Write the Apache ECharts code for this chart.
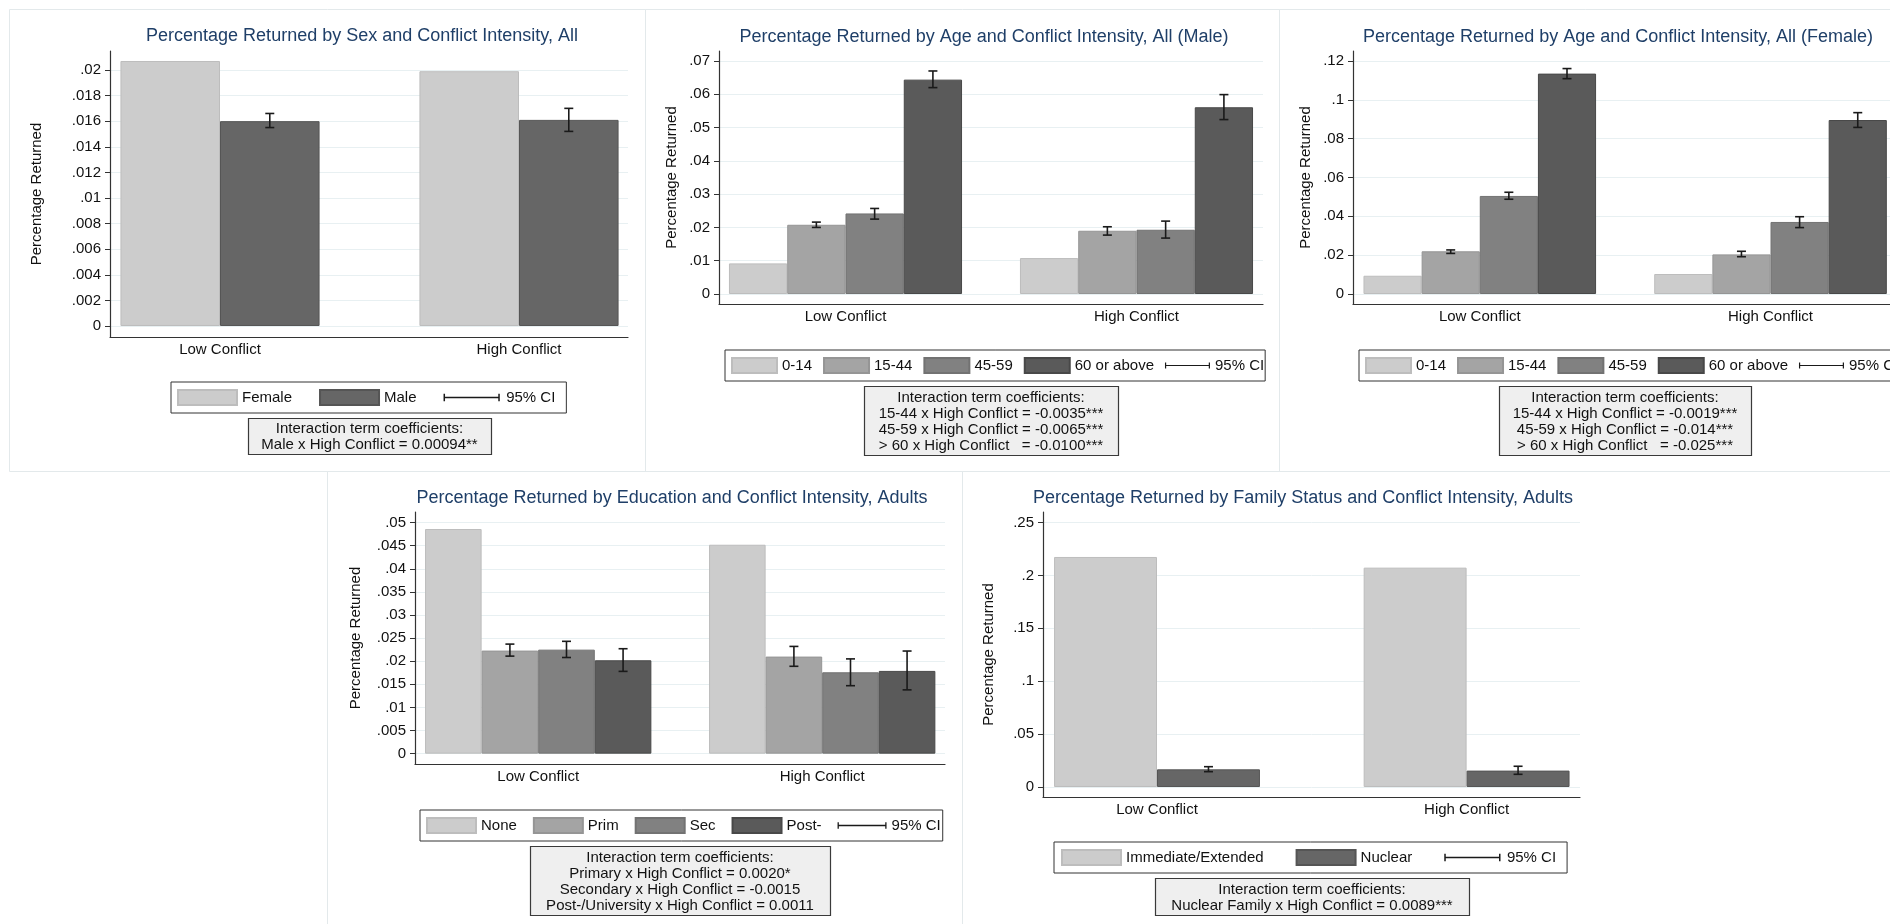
<!DOCTYPE html>
<html>
<head>
<meta charset="utf-8">
<title>Percentage Returned by Conflict Intensity</title>
<script src="https://cdn.jsdelivr.net/npm/echarts@6/dist/echarts.min.js"></script>
<style>
  html, body { margin: 0; padding: 0; background: #fff; }
  #main { width: 1890px; height: 924px; }
</style>
</head>
<body>
<div id="main"></div>
<script>
// ---- data ----
const conflict = ['Low Conflict', 'High Conflict'];

// sex
const sexNames = ['Female', 'Male'];
const sexFemale = [0.0207, 0.0199];
const sexMale = [0.0160, 0.0161];
const sexMaleCI = [[0.0155, 0.0166], [0.0152, 0.0170]];
const sexTicks = ['0', '.002', '.004', '.006', '.008', '.01', '.012', '.014', '.016', '.018', '.02'];
const sexCoef = ['Interaction term coefficients:', 'Male x High Conflict = 0.00094**'];

// age, male
const ageNames = ['0-14', '15-44', '45-59', '60 or above'];
const maleAge014 = [0.0092, 0.0108];
const maleAge1544 = [0.0208, 0.0190];
const maleAge4559 = [0.0242, 0.0193];
const maleAge60 = [0.0644, 0.0561];
const maleAge1544CI = [[0.0200, 0.0216], [0.0177, 0.0202]];
const maleAge4559CI = [[0.0225, 0.0257], [0.0168, 0.0219]];
const maleAge60CI = [[0.0620, 0.0670], [0.0524, 0.0599]];
const maleAgeTicks = ['0', '.01', '.02', '.03', '.04', '.05', '.06', '.07'];
const maleAgeCoef = ['Interaction term coefficients:', '15-44 x High Conflict = -0.0035***',
  '45-59 x High Conflict = -0.0065***', '> 60 x High Conflict   = -0.0100***'];

// age, female
const femAge014 = [0.0094, 0.0103];
const femAge1544 = [0.0220, 0.0204];
const femAge4559 = [0.0505, 0.0371];
const femAge60 = [0.1135, 0.0896];
const femAge1544CI = [[0.0209, 0.0227], [0.0192, 0.0220]];
const femAge4559CI = [[0.0488, 0.0524], [0.0342, 0.0398]];
const femAge60CI = [[0.1109, 0.1161], [0.0858, 0.0934]];
const femAgeTicks = ['0', '.02', '.04', '.06', '.08', '.1', '.12'];
const femAgeCoef = ['Interaction term coefficients:', '15-44 x High Conflict = -0.0019***',
  '45-59 x High Conflict = -0.014***', '> 60 x High Conflict   = -0.025***'];

// education
const eduNames = ['None', 'Prim', 'Sec', 'Post-'];
const eduNone = [0.0486, 0.0452];
const eduPrim = [0.0223, 0.0210];
const eduSec = [0.0225, 0.0176];
const eduPost = [0.0202, 0.0179];
const eduPrimCI = [[0.0211, 0.0237], [0.0189, 0.0232]];
const eduSecCI = [[0.0208, 0.0243], [0.0147, 0.0205]];
const eduPostCI = [[0.0178, 0.0227], [0.0138, 0.0222]];
const eduTicks = ['0', '.005', '.01', '.015', '.02', '.025', '.03', '.035', '.04', '.045', '.05'];
const eduCoef = ['Interaction term coefficients:', 'Primary x High Conflict = 0.0020*',
  'Secondary x High Conflict = -0.0015', 'Post-/University x High Conflict = 0.0011'];

// family status
const famNames = ['Immediate/Extended', 'Nuclear'];
const famImm = [0.2175, 0.2074];
const famNuc = [0.0167, 0.0155];
const famNucCI = [[0.0145, 0.0192], [0.0120, 0.0196]];
const famTicks = ['0', '.05', '.1', '.15', '.2', '.25'];
const famCoef = ['Interaction term coefficients:', 'Nuclear Family x High Conflict = 0.0089***'];

// ---- style ----
const FONT = "'Liberation Sans', Arial, sans-serif";
const TITLE_C = '#1f3f68';
const AXIS_C = '#333333';
const GRID_C = '#e8f0f2';
const TXT_C = '#111';
const G1 = ['#cccccc', '#bdbdbd'];
const G2 = ['#a4a4a4', '#959595'];
const G3 = ['#818181', '#727272'];
const G4 = ['#5a5a5a', '#484848'];
const GM = ['#666666', '#555555'];
const CI_ICON = 'path://M0,0L0.1,0L0.1,0.1Z M0,16L0.1,16L0.1,15.9Z M60,0L59.9,0L59.9,0.1Z' +
  ' M0,4h1.6v8h-1.6Z M0,7.2h60v1.6h-60Z M58.4,4h1.6v8h-1.6Z';

const panels = [
  {
    title: 'Percentage Returned by Sex and Conflict Intensity, All', titleX: 362, titleY: 36,
    names: sexNames, values: [sexFemale, sexMale], ci: [null, sexMaleCI], colors: [G1, GM],
    ticks: sexTicks, min: -0.00086, max: 0.02148,
    frame: [110, 51, 518, 286], dataLeft: 70.5, dataWidth: 598, gap: 0.334, nameGap: 66,
    legend: { left: 171, top: 382, itemWidth: 59, itemGap: 27, padding: [7, 11, 7, 6] },
    coef: [248, 418, 243, 36], coefLines: sexCoef, box: [9, 9, 636, 462], open: false
  },
  {
    title: 'Percentage Returned by Age and Conflict Intensity, All (Male)', titleX: 984, titleY: 37,
    names: ageNames, values: [maleAge014, maleAge1544, maleAge4559, maleAge60],
    ci: [null, maleAge1544CI, maleAge4559CI, maleAge60CI], colors: [G1, G2, G3, G4],
    ticks: maleAgeTicks, min: -0.0030, max: 0.0730,
    frame: [719, 51, 544, 253], dataLeft: 700, dataWidth: 582, gap: 0.199, nameGap: 40,
    legend: { left: 725, top: 350, itemWidth: 45, itemGap: 11, padding: [7, 1, 7, 6] },
    coef: [864, 386, 254, 69], coefLines: maleAgeCoef, box: [645, 9, 634, 462], open: false
  },
  {
    title: 'Percentage Returned by Age and Conflict Intensity, All (Female)', titleX: 1618, titleY: 37,
    names: ageNames, values: [femAge014, femAge1544, femAge4559, femAge60],
    ci: [null, femAge1544CI, femAge4559CI, femAge60CI], colors: [G1, G2, G3, G4],
    ticks: femAgeTicks, min: -0.00515, max: 0.12515,
    frame: [1353, 51, 544, 253], dataLeft: 1334.4, dataWidth: 581.5, gap: 0.2, nameGap: 40,
    legend: { left: 1359, top: 350, itemWidth: 45, itemGap: 11, padding: [7, 1, 7, 6] },
    coef: [1499, 386, 252, 69], coefLines: femAgeCoef, box: [1279, 9, 620, 462], open: false
  },
  {
    title: 'Percentage Returned by Education and Conflict Intensity, Adults', titleX: 672, titleY: 498,
    names: eduNames, values: [eduNone, eduPrim, eduSec, eduPost],
    ci: [null, eduPrimCI, eduSecCI, eduPostCI], colors: [G1, G2, G3, G4],
    ticks: eduTicks, min: -0.00224, max: 0.05228,
    frame: [415, 512, 530, 252], dataLeft: 396.2, dataWidth: 568, gap: 0.203, nameGap: 52,
    legend: { left: 420, top: 810, itemWidth: 49, itemGap: 16, padding: [7, 2, 7, 6] },
    coef: [530, 846, 300, 69], coefLines: eduCoef, box: [327, 471, 635, 460], open: false
  },
  {
    title: 'Percentage Returned by Family Status and Conflict Intensity, Adults', titleX: 1303, titleY: 498,
    names: famNames, values: [famImm, famNuc], ci: [null, famNucCI], colors: [G1, GM],
    ticks: famTicks, min: -0.00946, max: 0.26002,
    frame: [1043, 512, 537, 285], dataLeft: 1002.2, dataWidth: 619.2, gap: 0.335, nameGap: 47,
    legend: { left: 1054, top: 842, itemWidth: 59, itemGap: 32, padding: [7, 11, 7, 7] },
    coef: [1155, 878, 314, 37], coefLines: famCoef, box: [962, 471, 632, 460], open: true
  }
];

function errorBar(slot, n, gap) {
  return function (params, api) {
    const k = api.value(0);
    const band = api.size([1, 0])[0];
    const bw = band * (1 - gap) / n;
    const x = api.coord([k, 0])[0] + (slot - (n - 1) / 2) * bw;
    const y1 = api.coord([k, api.value(1)])[1];
    const y2 = api.coord([k, api.value(2)])[1];
    const w = 4.5;
    const st = { stroke: '#1a1a1a', lineWidth: 1.6 };
    return {
      type: 'group',
      children: [
        { type: 'line', shape: { x1: x, y1: y1, x2: x, y2: y2 }, style: st },
        { type: 'line', shape: { x1: x - w, y1: y1, x2: x + w, y2: y1 }, style: st },
        { type: 'line', shape: { x1: x - w, y1: y2, x2: x + w, y2: y2 }, style: st }
      ]
    };
  };
}

const grid = [], xAxis = [], yAxis = [], series = [], legend = [], graphic = [];

panels.forEach(function (p, i) {
  const f = 2 * i, d = 2 * i + 1;
  const tv = p.ticks.map(Number);

  // frame grid: axis lines, ticks, grid lines
  grid.push({ left: p.frame[0], top: p.frame[1], width: p.frame[2], height: p.frame[3],
    containLabel: false, outerBoundsMode: 'none' });
  // data grid: category bands for the bars
  grid.push({ left: p.dataLeft, top: p.frame[1], width: p.dataWidth, height: p.frame[3],
    containLabel: false, outerBoundsMode: 'none' });

  xAxis.push({
    gridIndex: f, type: 'value', min: 0, max: 1,
    axisLine: { show: true, onZero: false, lineStyle: { color: AXIS_C, width: 1.2 } },
    axisTick: { show: false }, axisLabel: { show: false }, splitLine: { show: false }
  });
  xAxis.push({
    gridIndex: d, type: 'category', data: conflict,
    axisLine: { show: false, onZero: false }, axisTick: { show: false }, splitLine: { show: false },
    axisLabel: { interval: 0, margin: 5, fontSize: 15, color: TXT_C, fontFamily: FONT }
  });

  yAxis.push({
    gridIndex: f, type: 'value', min: p.min, max: p.max,
    name: 'Percentage Returned', nameLocation: 'middle', nameGap: p.nameGap, nameRotate: 90,
    nameTextStyle: { fontSize: 15, color: TXT_C, fontFamily: FONT },
    axisLine: { show: true, onZero: false, lineStyle: { color: AXIS_C, width: 1.2 } },
    axisTick: { show: true, length: 5, customValues: tv, lineStyle: { color: AXIS_C } },
    axisLabel: {
      customValues: tv, margin: 9, fontSize: 15, color: TXT_C, fontFamily: FONT,
      formatter: function (v) {
        const j = tv.findIndex(function (t) { return Math.abs(t - v) < 1e-9; });
        return j >= 0 ? p.ticks[j] : '';
      }
    },
    splitLine: { show: true, lineStyle: { color: GRID_C, width: 1 } }
  });
  yAxis.push({ gridIndex: d, type: 'value', min: p.min, max: p.max, show: false });

  p.values.forEach(function (vals, s) {
    series.push({
      type: 'bar', name: p.names[s], xAxisIndex: d, yAxisIndex: d, data: vals,
      barGap: '0%', barCategoryGap: (p.gap * 100) + '%', z: 2,
      itemStyle: { color: p.colors[s][0], borderColor: p.colors[s][1], borderWidth: 1 },
      emphasis: { disabled: true }, silent: true
    });
  });
  p.ci.forEach(function (ci, s) {
    if (!ci) return;
    series.push({
      type: 'custom', name: '95% CI', xAxisIndex: d, yAxisIndex: d, z: 5, silent: true,
      data: ci.map(function (c, k) { return [k, c[0], c[1]]; }),
      renderItem: errorBar(s, p.values.length, p.gap),
      itemStyle: { color: '#1a1a1a' }
    });
  });

  legend.push({
    left: p.legend.left, top: p.legend.top, width: 800, orient: 'horizontal',
    icon: 'rect', itemWidth: p.legend.itemWidth, itemHeight: 15, itemGap: p.legend.itemGap,
    padding: p.legend.padding, borderColor: '#333', borderWidth: 1, backgroundColor: '#fff',
    selectedMode: false, textStyle: { fontSize: 15, color: TXT_C, fontFamily: FONT },
    data: p.names.map(function (n) { return { name: n }; }).concat([
      { name: '95% CI', icon: CI_ICON, itemStyle: { color: '#1a1a1a', borderWidth: 0 } }
    ])
  });

  // panel frame (the last panel shows only its top and left edges)
  const bx = p.box[0] + 0.5, by = p.box[1] + 0.5, bw = p.box[2], bh = p.box[3];
  if (p.open) {
    graphic.push({ type: 'polyline', z: -10, silent: true,
      shape: { points: [[bx, by + bh], [bx, by], [bx + bw, by]] },
      style: { fill: 'none', stroke: '#e3e9eb', lineWidth: 1 } });
  } else {
    graphic.push({ type: 'rect', z: -10, silent: true,
      shape: { x: bx, y: by, width: bw, height: bh },
      style: { fill: 'none', stroke: '#e3e9eb', lineWidth: 1 } });
  }
  // title
  graphic.push({ type: 'text', x: p.titleX, y: p.titleY, z: 10, silent: true,
    style: { text: p.title, fill: TITLE_C, fontSize: 18, fontFamily: FONT,
      align: 'center', verticalAlign: 'middle' } });
  // coefficient box
  graphic.push({ type: 'rect', z: 10, silent: true,
    shape: { x: p.coef[0] + 0.5, y: p.coef[1] + 0.5, width: p.coef[2], height: p.coef[3] },
    style: { fill: '#efefef', stroke: '#3a3a3a', lineWidth: 1.2 } });
  graphic.push({ type: 'text', z: 11, silent: true,
    x: p.coef[0] + p.coef[2] / 2, y: p.coef[1] + p.coef[3] / 2 + 1,
    style: { text: p.coefLines.join('\n'), fill: TXT_C, fontSize: 15, fontFamily: FONT,
      lineHeight: 16, align: 'center', verticalAlign: 'middle' } });
});

const chart = echarts.init(document.getElementById('main'), null, { renderer: 'canvas' });
chart.setOption({
  backgroundColor: '#fff',
  animation: false,
  textStyle: { fontFamily: FONT },
  tooltip: { show: false },
  grid: grid,
  xAxis: xAxis,
  yAxis: yAxis,
  legend: legend,
  series: series,
  graphic: graphic
});
</script>
</body>
</html>
